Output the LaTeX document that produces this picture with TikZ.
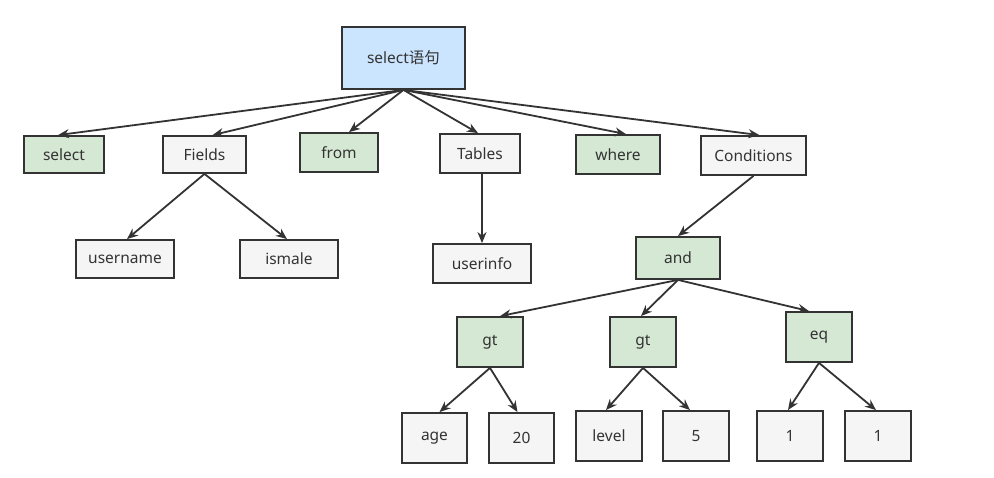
\documentclass[tikz,border=0pt]{standalone}
\usepackage{fontspec}
\setmainfont{Noto Sans}
\newfontfamily\cjkfont{Noto Sans CJK SC}
\usetikzlibrary{arrows.meta}
\definecolor{gfill}{HTML}{D5E8D4}
\definecolor{wfill}{HTML}{F5F5F5}
\definecolor{bfill}{HTML}{CCE5FF}
\definecolor{edge}{HTML}{333333}
\tikzset{
  box/.style={draw=edge, line width=1.8pt, inner sep=0pt, font=\fontsize{15.5}{17}\selectfont, text=edge},
  gbox/.style={box, fill=gfill},
  wbox/.style={box, fill=wfill},
  bbox/.style={box, fill=bfill},
  conn/.style={draw=edge, line width=1.8pt, -{Stealth[length=11pt,width=9pt]}}
}
\begin{document}
\begin{tikzpicture}[x=1pt,y=-1pt]
\path[fill=white] (0,0) rectangle (994,477);
\useasboundingbox (0,0) rectangle (994,477);
% root
\node[bbox, minimum width=123pt, minimum height=62pt] (root) at (403.5,58) {select{\cjkfont 语句}};
% level 1
\node[gbox, minimum width=80pt, minimum height=37pt] (sel) at (64,154.5) {select};
\node[wbox, minimum width=83pt, minimum height=37pt] (fields) at (204.5,154.5) {Fields};
\node[gbox, minimum width=78pt, minimum height=39pt] (from) at (339,152.5) {from};
\node[wbox, minimum width=80pt, minimum height=39pt] (tables) at (480,153.5) {Tables};
\node[gbox, minimum width=84pt, minimum height=39pt] (where) at (618,154.5) {where};
\node[wbox, minimum width=105pt, minimum height=39pt] (cond) at (753.5,155.5) {Conditions};
% level 2
\node[wbox, minimum width=98pt, minimum height=38pt] (user) at (125,259) {username};
\node[wbox, minimum width=98pt, minimum height=38pt] (ismale) at (289,259) {ismale};
\node[wbox, minimum width=98pt, minimum height=39pt] (uinfo) at (482,263.5) {userinfo};
\node[gbox, minimum width=84pt, minimum height=42pt] (and) at (678,258) {and};
% level 3
\node[gbox, minimum width=66pt, minimum height=50pt] (gt1) at (490,342) {gt};
\node[gbox, minimum width=66pt, minimum height=50pt] (gt2) at (643,342) {gt};
\node[gbox, minimum width=66pt, minimum height=50pt] (eq) at (819,337) {eq};
% level 4
\node[wbox, minimum width=65pt, minimum height=50pt] (age) at (434.5,438) {age};
\node[wbox, minimum width=65pt, minimum height=50pt] (twenty) at (521.5,438) {20};
\node[wbox, minimum width=66pt, minimum height=50pt] (level) at (609,436) {level};
\node[wbox, minimum width=66pt, minimum height=50pt] (five) at (696,436) {5};
\node[wbox, minimum width=66pt, minimum height=50pt] (one1) at (790,436) {1};
\node[wbox, minimum width=66pt, minimum height=50pt] (one2) at (878,436) {1};
% connectors
\draw[conn] (root.south) -- ([xshift=-6pt]sel.north);
\draw[conn] (root.south) -- ([xshift=8pt]fields.north);
\draw[conn] (root.south) -- ([xshift=10pt]from.north);
\draw[conn] (root.south) -- ([xshift=-2pt]tables.north);
\draw[conn] (root.south) -- ([xshift=8pt]where.north);
\draw[conn] (root.south) -- ([xshift=6pt]cond.north);
\draw[conn] (fields.south) -- ([xshift=2pt]user.north);
\draw[conn] (fields.south) -- ([xshift=-2pt]ismale.north);
\draw[conn] ([xshift=2pt]tables.south) -- (uinfo.north);
\draw[conn] (cond.south) -- (and.north);
\draw[conn] (and.south) -- ([xshift=10pt]gt1.north);
\draw[conn] (and.south) -- ([xshift=-2pt]gt2.north);
\draw[conn] (and.south) -- ([xshift=-10pt]eq.north);
\draw[conn] (gt1.south) -- ([xshift=5pt]age.north);
\draw[conn] (gt1.south) -- ([xshift=-4pt]twenty.north);
\draw[conn] (gt2.south) -- ([xshift=-3pt]level.north);
\draw[conn] (gt2.south) -- ([xshift=-6pt]five.north);
\draw[conn] (eq.south) -- ([xshift=-2pt]one1.north);
\draw[conn] (eq.south) -- ([xshift=-2pt]one2.north);
\end{tikzpicture}
\end{document}
